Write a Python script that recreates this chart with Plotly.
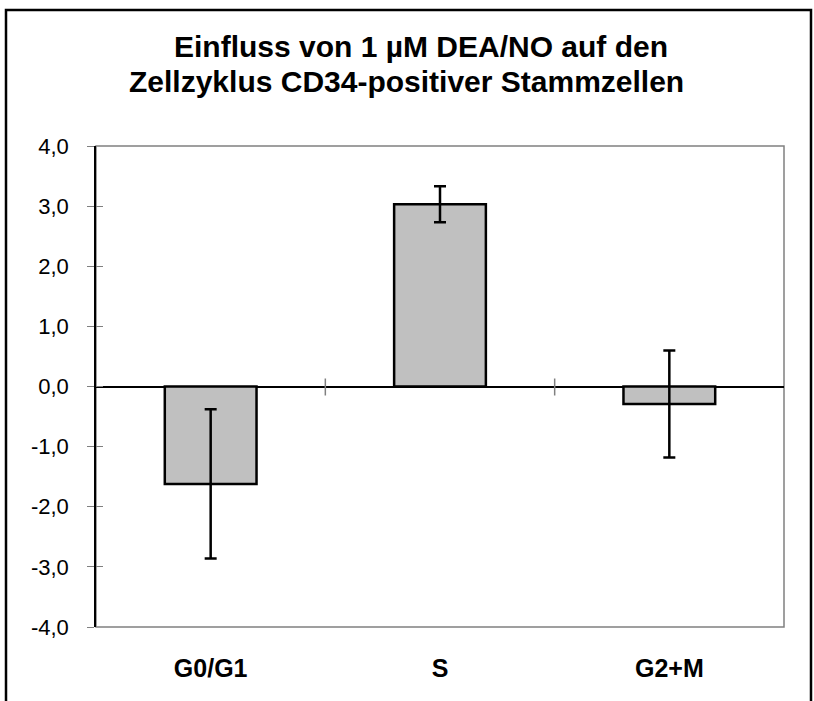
import plotly.graph_objects as go

# Cell-cycle phases and change relative to control (mean ± error)
phases = ["G0/G1", "S", "G2+M"]
change = [-1.62, 3.03, -0.29]
error = [1.24, 0.30, 0.89]
y_ticks = [-4, -3, -2, -1, 0, 1, 2, 3, 4]
# German decimal comma, plain hyphen for negatives
y_tick_text = [f"{v:.1f}".replace(".", ",") for v in y_ticks]
title_lines = ["Einfluss von 1 µM DEA/NO auf den",
               "Zellzyklus CD34-positiver Stammzellen"]

W, H = 814, 701
L, R, T, B = 96, 30, 146, 74
pw, ph = W - L - R, H - T - B

def px_x(p):
    return (p - L) / pw

def px_y(p):
    return 1 - (p - T) / ph

fig = go.Figure()
fig.add_trace(go.Bar(
    x=phases, y=change, width=0.4,
    marker=dict(color="#C0C0C0", line=dict(color="black", width=2.5)),
    error_y=dict(type="data", array=error, visible=True,
                 color="black", thickness=2.5, width=6),
    showlegend=False,
))

GRAY = "#808080"
FONT = "Liberation Sans, Arial, sans-serif"

shapes = [
    # plot area frame
    dict(type="rect", xref="paper", yref="paper", x0=0, x1=1, y0=0, y1=1,
         line=dict(color=GRAY, width=1.5), layer="below"),
    # outer chart frame (left, top, right)
    dict(type="path", xref="paper", yref="paper",
         path=f"M {px_x(6)},{px_y(705)} L {px_x(6)},{px_y(10)} "
              f"L {px_x(811)},{px_y(10)} L {px_x(811)},{px_y(705)}",
         line=dict(color="black", width=2.5)),
]
# category separators crossing the zero line
for xb in [0.5, 1.5]:
    shapes.append(dict(type="line", xref="x", yref="y", ysizemode="pixel",
                       yanchor=0, x0=xb, x1=xb, y0=-9, y1=8,
                       line=dict(color=GRAY, width=1.5)))

# two-line chart title
title_pos = [(421, 47), (406, 81)]
annotations = [
    dict(text=txt, xref="paper", yref="paper", x=px_x(cx), y=px_y(cy),
         xanchor="center", yanchor="middle", showarrow=False,
         font=dict(size=30, family=FONT, weight="bold"))
    for txt, (cx, cy) in zip(title_lines, title_pos)
]

fig.update_layout(
    width=W, height=H,
    margin=dict(l=L, r=R, t=T, b=B, pad=0),
    paper_bgcolor="white", plot_bgcolor="white",
    font=dict(family=FONT, color="black"),
    shapes=shapes,
    annotations=annotations,
    xaxis=dict(
        range=[-0.5, 2.5], showgrid=False, zeroline=False, showline=False,
        ticks="", tickfont=dict(size=25, family=FONT, weight="bold"),
        ticklabelstandoff=24,
    ),
    yaxis=dict(
        range=[-4, 4], tickvals=y_ticks, ticktext=y_tick_text,
        showgrid=False, zeroline=True, zerolinecolor="black", zerolinewidth=1.5,
        showline=True, linecolor="black", linewidth=1.5,
        ticks="outside", ticklen=7, tickcolor=GRAY, tickwidth=1.2,
        tickfont=dict(size=22, family=FONT), ticklabelstandoff=14,
    ),
    yaxis2=dict(
        range=[-4, 4], tickvals=y_ticks, overlaying="y", side="left",
        anchor="x", showgrid=False, zeroline=False, showline=False,
        ticks="inside", ticklen=7, tickcolor=GRAY, tickwidth=1.2,
        showticklabels=False,
    ),
)
# empty trace so the overlay axis is drawn
fig.add_trace(go.Scatter(x=[None], y=[None], yaxis="y2", showlegend=False))

fig.write_html("out.html")
